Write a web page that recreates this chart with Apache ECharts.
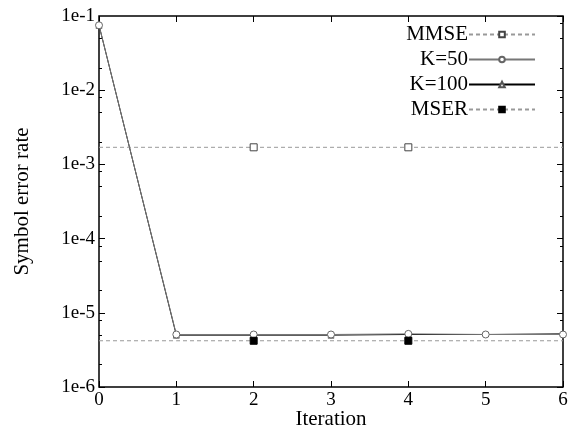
<!DOCTYPE html>
<html>
<head>
<meta charset="utf-8">
<script src="https://cdn.jsdelivr.net/npm/echarts@6/dist/echarts.min.js"></script>
<style>
  html, body { margin: 0; padding: 0; background: #fff; }
  #chart { width: 570px; height: 430px; }
</style>
</head>
<body>
<div id="chart"></div>
<script>
// iterations on the x axis
var iterations = [0, 1, 2, 3, 4, 5, 6];

// symbol error rate per iteration
var mmse = [1.7e-3, 1.7e-3, 1.7e-3, 1.7e-3, 1.7e-3, 1.7e-3, 1.7e-3];
var k50 = [7.5e-2, 5.1e-6, 5.1e-6, 5.1e-6, 5.2e-6, 5.1e-6, 5.1e-6];
var k100 = [7.5e-2, 5.0e-6, 5.0e-6, 5.0e-6, 5.1e-6, 5.1e-6, 5.2e-6];
var mser = [4.2e-6, 4.2e-6, 4.2e-6, 4.2e-6, 4.2e-6, 4.2e-6, 4.2e-6];

// log axis decades and minor tick multipliers
var decades = [-6, -5, -4, -3, -2, -1];
var minorMult = [2, 5, 8];

function pairs(ys) {
    return iterations.map(function (x, i) { return [x, ys[i]]; });
}

var minorTicks = [];
decades.slice(0, -1).forEach(function (d) {
    minorMult.forEach(function (m) { minorTicks.push(m * Math.pow(10, d)); });
});

var chart = echarts.init(document.getElementById('chart'));
var font = 'Liberation Serif';

// markers on MMSE/MSER curves only at even inner points
function everyOther(v, p) {
    return (p.dataIndex === 2 || p.dataIndex === 4) ? 7 : 0;
}

function yAx(pos, ticks, len, labels) {
    return {
        type: 'log',
        min: 1e-6,
        max: 1e-1,
        position: pos,
        axisLine: { show: false },
        splitLine: { show: false },
        axisTick: {
            inside: true, length: len,
            lineStyle: { color: '#000', width: 1 },
            customValues: ticks
        },
        axisLabel: {
            show: labels,
            fontFamily: font, fontSize: 19, color: '#000', margin: 4,
            formatter: function (v) { return '1e' + Math.round(Math.log10(v)); }
        },
        name: labels ? 'Symbol error rate' : '',
        nameLocation: 'middle',
        nameGap: 66,
        nameMoveOverlap: false,
        nameTextStyle: { fontFamily: font, fontSize: 21, color: '#000' }
    };
}

var majors = decades.map(function (d) { return Math.pow(10, d); });

var option = {
    animation: false,
    backgroundColor: '#fff',
    grid: {
        left: 99, right: 7, top: 16, bottom: 43,
        containLabel: false,
        outerBoundsMode: 'none',
        show: true, borderColor: '#000', borderWidth: 1.5
    },
    legend: {
        orient: 'vertical',
        right: 29, top: 19,
        align: 'right',
        itemWidth: 66,
        itemHeight: 7,
        itemGap: 4,
        textStyle: { fontFamily: font, fontSize: 21, color: '#000', padding: [0, -4, 0, 0] },
        data: ['MMSE', 'K=50', 'K=100', 'MSER']
    },
    xAxis: [{
        type: 'value', min: 0, max: 6, interval: 1,
        position: 'bottom',
        axisLine: { show: false },
        splitLine: { show: false },
        axisTick: { inside: true, length: 6, lineStyle: { color: '#000' } },
        axisLabel: { fontFamily: font, fontSize: 19, color: '#000', margin: 4 },
        name: 'Iteration', nameLocation: 'middle', nameGap: 22,
        nameMoveOverlap: false,
        nameTextStyle: { fontFamily: font, fontSize: 21, color: '#000' }
    }, {
        type: 'value', min: 0, max: 6, interval: 1,
        position: 'top',
        axisLine: { show: false },
        splitLine: { show: false },
        axisTick: { inside: true, length: 6, lineStyle: { color: '#000' } },
        axisLabel: { show: false }
    }],
    yAxis: [
        yAx('left', majors, 6, true),
        yAx('left', minorTicks, 3, false),
        yAx('right', majors, 6, false),
        yAx('right', minorTicks, 3, false)
    ],
    series: [{
        name: 'MMSE', type: 'line', data: pairs(mmse),
        symbol: 'rect', symbolSize: everyOther,
        itemStyle: { color: '#fff', borderColor: '#444', borderWidth: 1 },
        lineStyle: { color: '#999', width: 1, type: [4, 3] }
    }, {
        name: 'K=100', type: 'line', data: pairs(k100),
        symbol: 'triangle', symbolSize: function (v, p) { return p.dataIndex <= 4 ? 6 : 0; },
        itemStyle: { color: '#fff', borderColor: '#555', borderWidth: 1 },
        lineStyle: { color: '#000', width: 1 }
    }, {
        name: 'K=50', type: 'line', data: pairs(k50),
        symbol: 'circle', symbolSize: 7,
        itemStyle: { color: '#fff', borderColor: '#666', borderWidth: 1 },
        lineStyle: { color: '#777', width: 1 }
    }, {
        name: 'MSER', type: 'line', data: pairs(mser),
        symbol: 'rect', symbolSize: everyOther,
        itemStyle: { color: '#000', borderColor: '#000', borderWidth: 1 },
        lineStyle: { color: '#999', width: 1, type: [4, 3] }
    }]
};
chart.setOption(option);
</script>
</body>
</html>
